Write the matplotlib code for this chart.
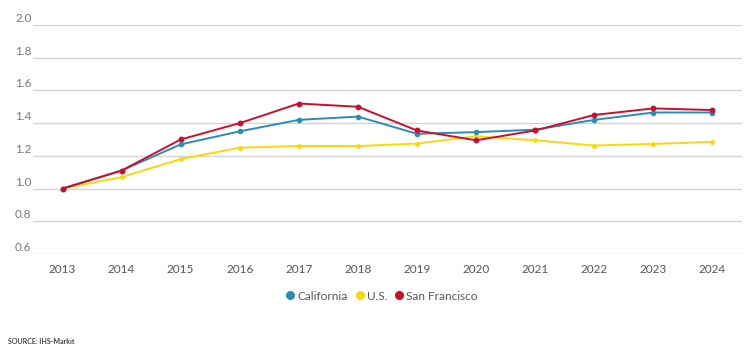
import matplotlib.pyplot as plt
from matplotlib.lines import Line2D
import matplotlib.transforms as mtransforms

years = [2013, 2014, 2015, 2016, 2017, 2018, 2019, 2020, 2021, 2022, 2023, 2024]
california = [1.00, 1.11, 1.27, 1.35, 1.42, 1.44, 1.335, 1.345, 1.36, 1.42, 1.465, 1.465]
us = [1.00, 1.07, 1.18, 1.25, 1.26, 1.26, 1.275, 1.32, 1.295, 1.263, 1.273, 1.285]
san_francisco = [1.00, 1.11, 1.30, 1.40, 1.52, 1.50, 1.355, 1.295, 1.355, 1.45, 1.49, 1.48]
y_ticks = [0.6, 0.8, 1.0, 1.2, 1.4, 1.6, 1.8, 2.0]

c_blue = '#2b8cb8'
c_yellow = '#f7d80c'
c_red = '#c8102e'

plt.rcParams['font.family'] = ['Lato', 'DejaVu Sans']

fig = plt.figure(figsize=(7.46, 3.47), dpi=100)
ax = fig.add_axes([0.0442, 0.268, 0.9504, 0.66])

ax.plot(years, us, color=c_yellow, lw=1.4, marker='o', ms=2.5, zorder=3)
ax.plot(years, california, color=c_blue, lw=1.4, marker='o', ms=3, zorder=4)
ax.plot(years, san_francisco, color=c_red, lw=1.4, marker='o', ms=3.2, zorder=5)

ax.set_xlim(2012.5, 2024.5)
ax.set_ylim(0.6, 2.0)
ax.set_yticks(y_ticks)
ax.yaxis.grid(True, color='#d4d4d4', lw=1)
ax.set_axisbelow(True)
for s in ax.spines.values():
    s.set_visible(False)
ax.set_xticks(years)
ax.set_xticklabels([str(y) for y in years], fontsize=8.5, color='#555555')
ax.tick_params(axis='x', length=0, pad=7)
ax.tick_params(axis='y', length=0, labelleft=False)

# y labels sit above the gridlines, left of the plot
trans = mtransforms.blended_transform_factory(fig.transFigure, ax.transData)
for t in y_ticks:
    ax.text(15 / 746, t + 0.04, f'{t:.1f}', transform=trans, fontsize=8.5,
            color='#777777', ha='left', va='center')

handles = [Line2D([], [], ls='none', marker='o', ms=5.5, color=c) for c in (c_blue, c_yellow, c_red)]
fig.legend(handles, ['California', 'U.S.', 'San Francisco'], loc='center',
           bbox_to_anchor=(381 / 746, 1 - 296 / 347), ncol=3, frameon=False,
           fontsize=8.5, labelcolor='#555555', handletextpad=0.1, columnspacing=0.5,
           handlelength=1.0)

fig.text(8 / 746, 1 - 341 / 347, 'SOURCE: IHS-Markit', fontsize=5, color='#444444',
         fontweight='bold', ha='left', va='center')

plt.savefig('out.png', dpi=100)
